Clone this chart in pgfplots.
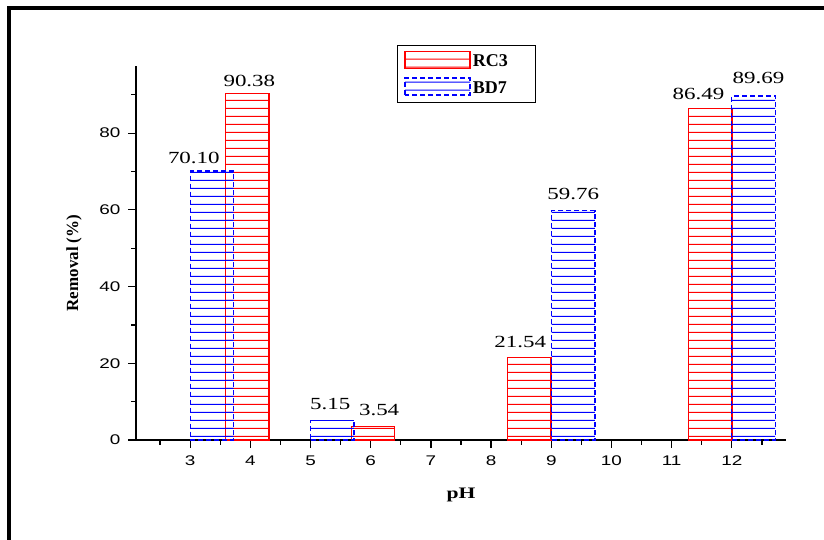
\documentclass[border=0pt]{standalone}
\usepackage{fontspec}
\setmainfont{Liberation Serif}[FakeStretch=1.35]
\setsansfont{Liberation Sans}[FakeStretch=1.35]
\newfontfamily\plainserif{Liberation Serif}
\usepackage{pgfplots}
\pgfplotsset{compat=1.18}
\usepackage{pgfplotstable}
\usetikzlibrary{patterns.meta}

\tikzdeclarepattern{
  name=hlred,
  type=colored,
  bottom left={(0pt,0pt)},
  top right={(4pt,7.7pt)},
  tile size={(4pt,7.7pt)},
  code={\draw[red, line width=1pt] (0pt,3.85pt) -- (4pt,3.85pt);}
}
\tikzdeclarepattern{
  name=hlblue,
  type=colored,
  bottom left={(0pt,0pt)},
  top right={(4pt,7.7pt)},
  tile size={(4pt,7.7pt)},
  code={\draw[blue, line width=1pt] (0pt,3.85pt) -- (4pt,3.85pt);}
}

\pgfplotsset{
  mylegimg/.style={legend image code/.code={\draw[##1] (0pt,-6.5pt) rectangle (65pt,10.5pt);}},
}

\pgfplotstableread{
x y dx dy
3.95 90.38 2 6
6.04 3.54 6 10
8.635 21.54 -9 9
11.645 86.49 -12 8
}\rcthree
\pgfplotstableread{
x y dx dy
3.36 70.10 -18 7
5.36 5.15 -2 10
9.365 59.76 0 10
12.36 89.69 5 12
}\bdseven

\begin{document}
\begin{tikzpicture}[x=1pt,y=1pt]
\path[use as bounding box] (0,0) rectangle (824,540);
\draw[line width=4pt] (9,0) -- (9,532) -- (824,532);
\begin{axis}[
  at={(136pt,100pt)}, anchor=south west,
  scale only axis, width=650pt, height=374pt,
  xmin=2.1, xmax=12.9, ymin=0, ymax=97.5,
  axis lines=left, axis line style={-, line width=1.3pt},
  xtick={3,...,12}, minor xtick={2.5,3.5,...,12.5},
  ytick={0,20,...,80}, minor ytick={10,30,50,70,90},
  tick align=outside, major tick length=8pt, minor tick length=5pt,
  every tick/.style={black, line width=1.2pt},
  ticklabel style={font=\sffamily\fontsize{14}{14}\selectfont},
  yticklabel style={xshift=-4pt},
  xticklabel style={yshift=-4pt},
  /pgf/number format/assume math mode=true,
  xlabel={\textbf{pH}},
  ylabel={\textbf{Removal (\%)}},
  xlabel style={at={(axis description cs:0.5,0)}, anchor=base, yshift=-59pt, font=\fontsize{16}{16}\selectfont},
  ylabel style={at={(axis description cs:-0.0954,0.473)}, anchor=center, font=\plainserif\fontsize{17}{17}\selectfont},
  clip=false,
  legend style={at={(axis description cs:0.4015,1.056)}, anchor=north west,
    draw=black, line width=1pt, fill=white,
    font=\plainserif\bfseries\fontsize{18}{18}\selectfont,
    row sep=7pt, inner xsep=7pt, inner ysep=5pt,
    /tikz/every even column/.append style={column sep=14pt}},
  legend cell align=left,
  nodes near coords={\pgfmathprintnumber[fixed, fixed zerofill, precision=2, assume math mode=true]{\pgfplotspointmeta}},
]
\addplot[ybar, bar width=0.72, bar shift=0pt, draw=red, line width=1.3pt,
  pattern=hlred,
  visualization depends on={\thisrow{dx} \as \dx},
  visualization depends on={\thisrow{dy} \as \dy},
  nodes near coords style={anchor=south, inner sep=0pt, xshift=\dx*1pt, yshift=\dy*1pt, font=\fontsize{17}{17}\selectfont, black, solid},
  mylegimg]
  table[x=x, y=y] {\rcthree};
\addlegendentry{\makebox[54pt][l]{RC3}}
\addplot[ybar, bar width=0.72, bar shift=0pt, draw=blue, line width=1.3pt,
  dash pattern=on 5pt off 3pt,
  pattern=hlblue,
  visualization depends on={\thisrow{dx} \as \dx},
  visualization depends on={\thisrow{dy} \as \dy},
  nodes near coords style={anchor=south, inner sep=0pt, xshift=\dx*1pt, yshift=\dy*1pt, font=\fontsize{17}{17}\selectfont, black, solid},
  mylegimg]
  table[x=x, y=y] {\bdseven};
\addlegendentry{\makebox[54pt][l]{BD7}}
\end{axis}
\end{tikzpicture}
\end{document}
